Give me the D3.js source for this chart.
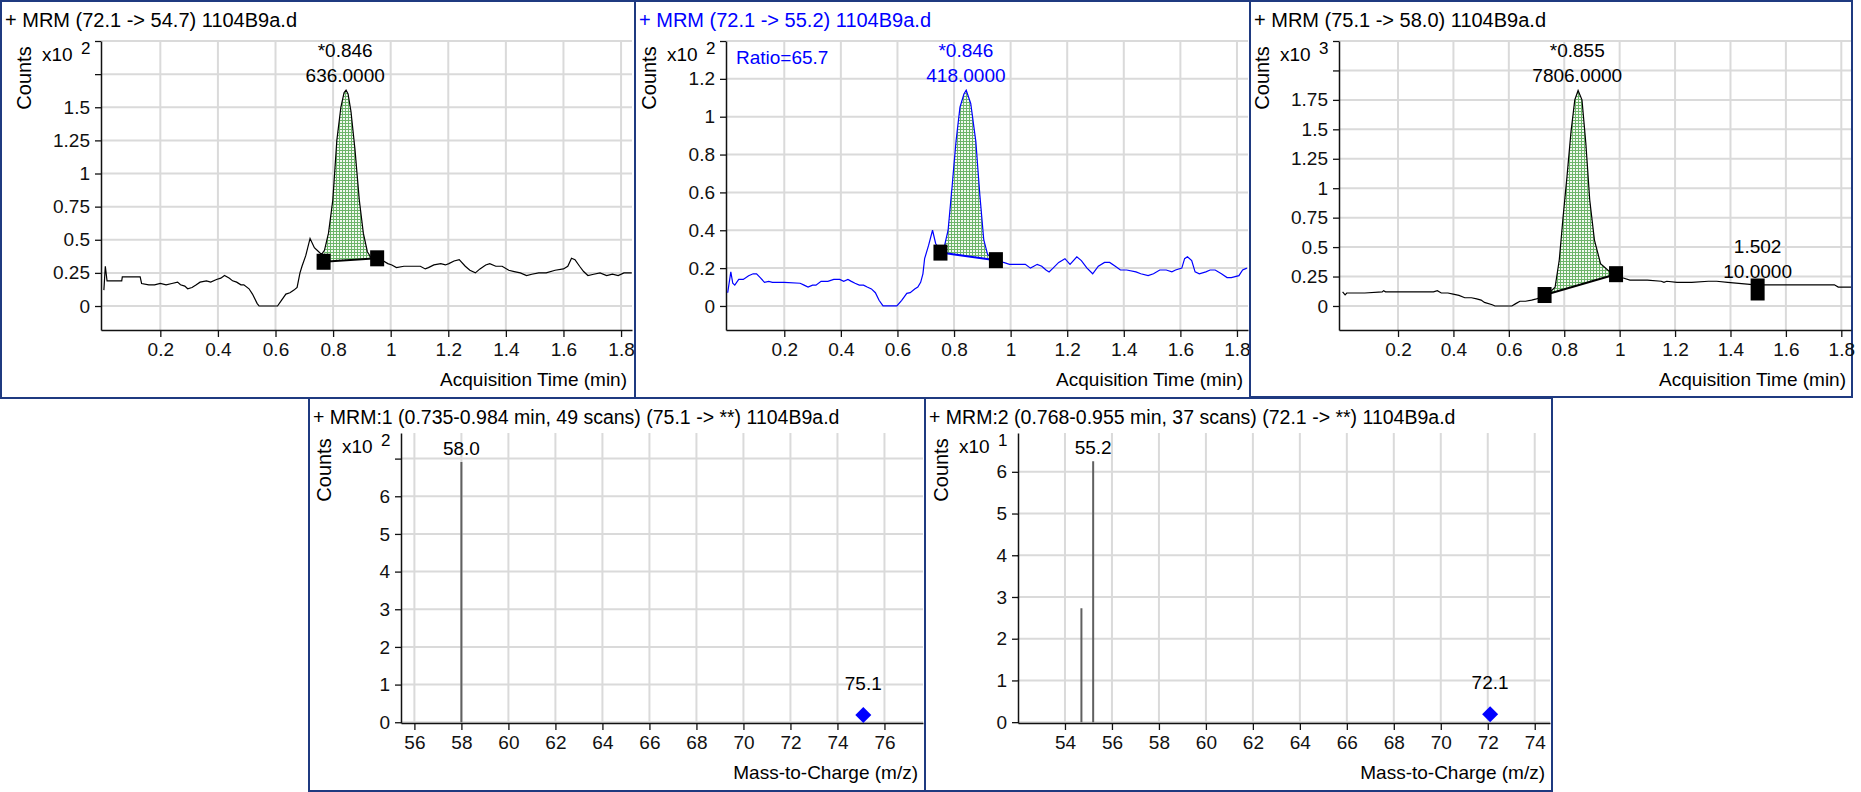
<!DOCTYPE html>
<html>
<head>
<meta charset="utf-8">
<script src="https://cdn.jsdelivr.net/npm/d3@7"></script>
<style>
    body { margin: 0; background: #fff; }
    svg { display: block; font-family: "Liberation Sans", Arial, sans-serif; }
</style>
</head>
<body>
<script>
// chromatograms (time in min, counts in units of the panel exponent)
const chromTitles = ["+ MRM (72.1 -> 54.7) 1104B9a.d", "+ MRM (72.1 -> 55.2) 1104B9a.d", "+ MRM (75.1 -> 58.0) 1104B9a.d"];
const chromExponent = ["2", "2", "3"];
const timeTicks = [0.2, 0.4, 0.6, 0.8, 1, 1.2, 1.4, 1.6, 1.8];
const countTicks = [
    [0, 0.25, 0.5, 0.75, 1, 1.25, 1.5, 1.75, 2],
    [0, 0.2, 0.4, 0.6, 0.8, 1, 1.2, 1.4],
    [0, 0.25, 0.5, 0.75, 1, 1.25, 1.5, 1.75, 2, 2.25]
];
const countLabelMax = [1.5, 1.2, 1.75];
const timeDomain = [[-0.006, 1.838], [-0.006, 1.839], [-0.013, 1.835]];
const countDomain = [[-0.181, 2.0], [-0.127, 1.4], [-0.204, 2.25]];

const trace547 = [[0.004,0.12],[0.009,0.30],[0.015,0.19],[0.04,0.19],[0.066,0.19],[0.068,0.22],[0.10,0.22],[0.13,0.22],[0.135,0.17],[0.16,0.16],[0.18,0.16],[0.20,0.17],[0.22,0.16],[0.24,0.17],[0.26,0.18],[0.27,0.16],[0.285,0.15],[0.295,0.13],[0.31,0.14],[0.325,0.16],[0.338,0.18],[0.36,0.19],[0.375,0.18],[0.395,0.20],[0.41,0.21],[0.423,0.23],[0.44,0.21],[0.451,0.19],[0.465,0.18],[0.48,0.16],[0.49,0.16],[0.508,0.13],[0.52,0.09],[0.536,0.02],[0.543,0.0],[0.607,0.0],[0.62,0.04],[0.636,0.09],[0.65,0.10],[0.664,0.12],[0.675,0.14],[0.685,0.25],[0.692,0.30],[0.705,0.38],[0.72,0.51],[0.735,0.44],[0.75,0.41],[0.76,0.39],[0.77,0.42],[0.784,0.55],[0.799,0.80],[0.813,1.25],[0.827,1.50],[0.838,1.61],[0.845,1.63],[0.852,1.60],[0.862,1.47],[0.876,1.18],[0.891,0.80],[0.905,0.55],[0.919,0.41],[0.933,0.36],[0.954,0.37],[0.965,0.38],[0.975,0.34],[0.99,0.32],[1.004,0.31],[1.02,0.29],[1.046,0.30],[1.075,0.30],[1.103,0.30],[1.12,0.28],[1.131,0.29],[1.15,0.31],[1.174,0.32],[1.19,0.31],[1.202,0.32],[1.22,0.34],[1.238,0.35],[1.259,0.30],[1.275,0.27],[1.294,0.25],[1.31,0.28],[1.33,0.31],[1.344,0.32],[1.365,0.30],[1.387,0.30],[1.41,0.27],[1.429,0.26],[1.45,0.25],[1.472,0.23],[1.49,0.24],[1.514,0.25],[1.54,0.25],[1.571,0.27],[1.6,0.28],[1.615,0.30],[1.628,0.36],[1.64,0.35],[1.656,0.30],[1.67,0.26],[1.685,0.23],[1.705,0.24],[1.727,0.25],[1.75,0.23],[1.77,0.24],[1.79,0.23],[1.81,0.25],[1.837,0.25]];
const trace552 = [[0.0,0.07],[0.011,0.18],[0.018,0.12],[0.025,0.11],[0.039,0.14],[0.055,0.14],[0.074,0.16],[0.09,0.17],[0.102,0.17],[0.115,0.15],[0.13,0.125],[0.145,0.13],[0.158,0.125],[0.2,0.125],[0.256,0.12],[0.27,0.11],[0.284,0.10],[0.30,0.11],[0.312,0.11],[0.33,0.13],[0.354,0.13],[0.375,0.14],[0.396,0.14],[0.41,0.13],[0.425,0.14],[0.437,0.13],[0.45,0.12],[0.465,0.11],[0.48,0.11],[0.493,0.10],[0.508,0.09],[0.522,0.07],[0.535,0.03],[0.549,0.0],[0.598,0.0],[0.615,0.03],[0.633,0.067],[0.645,0.07],[0.661,0.09],[0.672,0.10],[0.682,0.125],[0.69,0.17],[0.696,0.25],[0.71,0.32],[0.724,0.40],[0.735,0.33],[0.748,0.30],[0.765,0.31],[0.779,0.40],[0.793,0.63],[0.807,0.87],[0.821,1.05],[0.835,1.12],[0.843,1.14],[0.859,1.07],[0.877,0.87],[0.891,0.59],[0.905,0.35],[0.919,0.27],[0.935,0.26],[0.947,0.25],[0.96,0.24],[0.975,0.23],[0.996,0.22],[1.02,0.22],[1.052,0.22],[1.07,0.20],[1.082,0.21],[1.094,0.22],[1.11,0.21],[1.125,0.19],[1.136,0.18],[1.15,0.20],[1.17,0.23],[1.192,0.25],[1.21,0.22],[1.234,0.26],[1.25,0.24],[1.27,0.20],[1.29,0.17],[1.31,0.21],[1.332,0.23],[1.35,0.23],[1.37,0.21],[1.388,0.19],[1.41,0.19],[1.443,0.18],[1.46,0.17],[1.486,0.16],[1.505,0.17],[1.527,0.19],[1.55,0.19],[1.57,0.18],[1.583,0.19],[1.605,0.20],[1.615,0.25],[1.625,0.26],[1.64,0.24],[1.652,0.18],[1.667,0.17],[1.69,0.18],[1.705,0.19],[1.723,0.19],[1.745,0.17],[1.765,0.15],[1.78,0.15],[1.807,0.16],[1.82,0.19],[1.835,0.20]];
const trace580 = [[0.0,0.12],[0.009,0.095],[0.015,0.11],[0.08,0.11],[0.143,0.12],[0.148,0.13],[0.155,0.12],[0.25,0.12],[0.328,0.12],[0.342,0.13],[0.356,0.11],[0.38,0.11],[0.399,0.10],[0.42,0.09],[0.441,0.07],[0.465,0.07],[0.484,0.06],[0.5,0.05],[0.512,0.03],[0.54,0.01],[0.55,0.0],[0.611,0.0],[0.625,0.02],[0.64,0.04],[0.66,0.04],[0.682,0.05],[0.70,0.06],[0.725,0.08],[0.745,0.11],[0.767,0.16],[0.782,0.39],[0.796,0.76],[0.81,1.10],[0.824,1.47],[0.838,1.75],[0.85,1.83],[0.864,1.75],[0.878,1.38],[0.892,0.90],[0.909,0.56],[0.931,0.36],[0.96,0.30],[0.987,0.26],[1.01,0.24],[1.037,0.22],[1.1,0.22],[1.15,0.21],[1.16,0.20],[1.17,0.21],[1.207,0.20],[1.26,0.20],[1.32,0.21],[1.35,0.21],[1.39,0.20],[1.44,0.19],[1.49,0.18],[1.6,0.18],[1.775,0.18],[1.789,0.16],[1.843,0.16]];
const chromTraces = [trace547, trace552, trace580];

// integrated peaks
const peakStart = [0.767, 0.752, 0.729];
const peakEnd = [0.953, 0.948, 0.987];
const baseAtStart = [0.334, 0.282, 0.093];
const baseAtEnd = [0.36, 0.242, 0.27];
const apexTime = [0.842, 0.842, 0.847];
const apexRT = ["*0.846", "*0.846", "*0.855"];
const apexArea = ["636.0000", "418.0000", "7806.0000"];
const extraPeakTime = 1.498;
const extraPeakBase = 0.14;
const extraPeakText = ["1.502", "10.0000"];
const ratioText = "Ratio=65.7";

// product ion spectra (m/z, counts in units of the panel exponent)
const specTitles = ["+ MRM:1 (0.735-0.984 min, 49 scans) (75.1 -> **) 1104B9a.d", "+ MRM:2 (0.768-0.955 min, 37 scans) (72.1 -> **) 1104B9a.d"];
const specExponent = ["2", "1"];
const spec1Mz = [58.0];
const spec1Counts = [6.91];
const spec2Mz = [54.7, 55.2];
const spec2Counts = [2.73, 6.25];
const precursorMz = [75.1, 72.1];
const precursorCounts = [0.19, 0.19];
const specMzTicks = [[56, 58, 60, 62, 64, 66, 68, 70, 72, 74, 76], [54, 56, 58, 60, 62, 64, 66, 68, 70, 72, 74]];
const specCountTicks = [[0, 1, 2, 3, 4, 5, 6, 7], [0, 1, 2, 3, 4, 5, 6]];
const specCountLabelMax = [6, 6];
const specMzDomain = [[55.43, 77.64], [52.0, 74.65]];
const specCountDomain = [[-0.02, 7.68], [-0.02, 6.93]];

const BORDER = "#1f3a80";
const GRID = "#dadada";
const BLUE = "#0000ff";

const svg = d3.select("body").append("svg")
    .attr("width", 1861)
    .attr("height", 792);

const defs = svg.append("defs");
const hatch = defs.append("pattern")
    .attr("id", "hatch")
    .attr("width", 3)
    .attr("height", 3)
    .attr("patternUnits", "userSpaceOnUse");
hatch.append("rect").attr("width", 3).attr("height", 3).attr("fill", "#f2f9f1");
hatch.append("path").attr("d", "M0,0.5H3M0.5,0V3").attr("stroke", "#6cb46a").attr("stroke-width", 1);

function build_frame(box, title, color, fontSize) {
    svg.append("rect")
        .attr("x", box[0]).attr("y", box[1])
        .attr("width", box[2] - box[0]).attr("height", box[3] - box[1])
        .attr("fill", "none").attr("stroke", BORDER).attr("stroke-width", 2);
    svg.append("text")
        .attr("x", box[0] + 4).attr("y", box[1] + 26)
        .attr("font-size", fontSize).attr("fill", color)
        .text(title);
}

function build_axes(area, x, y, xTicks, yTicks, labelMax, exponent, xTitle) {
    const g = svg.append("g");

    // grid
    g.append("g").selectAll("line").data(xTicks).join("line")
        .attr("x1", d => x(d)).attr("x2", d => x(d))
        .attr("y1", area.top).attr("y2", area.bottom)
        .attr("stroke", GRID).attr("stroke-width", 2);
    g.append("g").selectAll("line").data(yTicks).join("line")
        .attr("x1", area.left).attr("x2", area.right)
        .attr("y1", d => y(d)).attr("y2", d => y(d))
        .attr("stroke", GRID).attr("stroke-width", 2);

    const xa = g.append("g")
        .attr("transform", `translate(0,${area.bottom})`)
        .call(d3.axisBottom(x).tickValues(xTicks).tickSize(7).tickSizeOuter(0).tickPadding(6).tickFormat(d => String(d)));
    const ya = g.append("g")
        .attr("transform", `translate(${area.left},0)`)
        .call(d3.axisLeft(y).tickValues(yTicks).tickSize(6).tickSizeOuter(0).tickPadding(5)
            .tickFormat(d => (d <= labelMax ? String(d) : "")));
    [xa, ya].forEach(a => {
        a.attr("font-size", 19).attr("font-family", null).attr("color", "#111");
        a.select(".domain").attr("stroke-width", 1.5);
        a.selectAll(".tick line").attr("stroke-width", 1.3);
    });

    // axis titles
    g.append("text")
        .attr("transform", `translate(${area.left - 77},${area.top + 37}) rotate(-90)`)
        .attr("text-anchor", "middle").attr("dy", "0.35em")
        .attr("font-size", 20).text("Counts");
    g.append("text")
        .attr("x", area.left - 59).attr("y", area.top + 20)
        .attr("font-size", 19).text("x10");
    g.append("text")
        .attr("x", area.left - 20).attr("y", area.top + 13)
        .attr("font-size", 17).text(exponent);
    g.append("text")
        .attr("x", area.right - 5).attr("y", area.bottom + 56)
        .attr("text-anchor", "end")
        .attr("font-size", 19).text(xTitle);
    return g;
}

// chromatogram panels
const chromLayout = [
    { box: [1, 1, 635, 398], left: 101, right: 632 },
    { box: [635, 1, 1250, 398], left: 726, right: 1248 },
    { box: [1250, 1, 1852, 397], left: 1339, right: 1851 }
];
const chromColor = ["#000", BLUE, "#000"];

chromLayout.forEach((lay, i) => {
    const area = { left: lay.left, right: lay.right, top: 41, bottom: 330 };
    build_frame(lay.box, chromTitles[i], chromColor[i], 20);

    const x = d3.scaleLinear().domain(timeDomain[i]).range([area.left, area.right]);
    const y = d3.scaleLinear().domain(countDomain[i]).range([area.bottom, area.top]);
    build_axes(area, x, y, timeTicks, countTicks[i], countLabelMax[i], chromExponent[i], "Acquisition Time (min)");

    const clipId = "clip" + i;
    defs.append("clipPath").attr("id", clipId).append("rect")
        .attr("x", area.left).attr("y", area.top)
        .attr("width", area.right - area.left).attr("height", area.bottom - area.top);
    const plot = svg.append("g").attr("clip-path", `url(#${clipId})`);

    const trace = chromTraces[i];
    const inside = trace.filter(d => d[0] > peakStart[i] && d[0] < peakEnd[i]);
    const fillPts = [[peakStart[i], baseAtStart[i]], ...inside, [peakEnd[i], baseAtEnd[i]]];
    plot.append("path")
        .attr("d", d3.line().x(d => x(d[0])).y(d => y(d[1]))(fillPts) + "Z")
        .attr("fill", "url(#hatch)").attr("stroke", "none");

    plot.append("path")
        .attr("d", d3.line().x(d => x(d[0])).y(d => y(d[1]))(trace))
        .attr("fill", "none").attr("stroke", chromColor[i]).attr("stroke-width", 1.2);

    // integration baseline and markers
    plot.append("line")
        .attr("x1", x(peakStart[i])).attr("y1", y(baseAtStart[i]))
        .attr("x2", x(peakEnd[i])).attr("y2", y(baseAtEnd[i]))
        .attr("stroke", chromColor[i]).attr("stroke-width", 2);
    plot.selectAll("rect.mark").data([[peakStart[i], baseAtStart[i]], [peakEnd[i], baseAtEnd[i]]]).join("rect")
        .attr("class", "mark")
        .attr("x", d => x(d[0]) - 7).attr("y", d => y(d[1]) - 8)
        .attr("width", 14).attr("height", 16).attr("fill", "#000");

    svg.append("text")
        .attr("x", x(apexTime[i])).attr("y", area.top + 16)
        .attr("text-anchor", "middle").attr("font-size", 19).attr("fill", chromColor[i])
        .text(apexRT[i]);
    svg.append("text")
        .attr("x", x(apexTime[i])).attr("y", area.top + 41)
        .attr("text-anchor", "middle").attr("font-size", 19).attr("fill", chromColor[i])
        .text(apexArea[i]);

    if (i === 1) {
        svg.append("text")
            .attr("x", area.left + 10).attr("y", area.top + 23)
            .attr("font-size", 19).attr("fill", BLUE)
            .text(ratioText);
    }
    if (i === 2) {
        plot.append("rect")
            .attr("x", x(extraPeakTime) - 7).attr("y", y(extraPeakBase) - 11)
            .attr("width", 14).attr("height", 22).attr("fill", "#000");
        extraPeakText.forEach((t, k) => {
            svg.append("text")
                .attr("x", x(extraPeakTime)).attr("y", y(extraPeakBase) - 36 + k * 25)
                .attr("text-anchor", "middle").attr("font-size", 19)
                .text(t);
        });
    }
});

// spectrum panels
const specLayout = [
    { box: [309, 398, 925, 791], left: 401, right: 923 },
    { box: [925, 398, 1552, 791], left: 1018, right: 1550 }
];
const specSticks = [
    spec1Mz.map((m, k) => [m, spec1Counts[k]]),
    spec2Mz.map((m, k) => [m, spec2Counts[k]])
];

specLayout.forEach((lay, i) => {
    const area = { left: lay.left, right: lay.right, top: 433, bottom: 723 };
    build_frame(lay.box, specTitles[i], "#000", 19.5);

    const x = d3.scaleLinear().domain(specMzDomain[i]).range([area.left, area.right]);
    const y = d3.scaleLinear().domain(specCountDomain[i]).range([area.bottom, area.top]);
    build_axes(area, x, y, specMzTicks[i], specCountTicks[i], specCountLabelMax[i], specExponent[i], "Mass-to-Charge (m/z)");

    svg.append("g").selectAll("line").data(specSticks[i]).join("line")
        .attr("x1", d => x(d[0])).attr("x2", d => x(d[0]))
        .attr("y1", y(0)).attr("y2", d => y(d[1]))
        .attr("stroke", "#606060").attr("stroke-width", 2);

    const top = specSticks[i].reduce((a, b) => (b[1] > a[1] ? b : a));
    svg.append("text")
        .attr("x", x(top[0])).attr("y", y(top[1]) - 7)
        .attr("text-anchor", "middle").attr("font-size", 19)
        .text(top[0].toFixed(1));

    const px = x(precursorMz[i]);
    const py = y(precursorCounts[i]);
    svg.append("path")
        .attr("d", `M${px},${py - 8}L${px + 8},${py}L${px},${py + 8}L${px - 8},${py}Z`)
        .attr("fill", BLUE);
    svg.append("text")
        .attr("x", px).attr("y", py - 25)
        .attr("text-anchor", "middle").attr("font-size", 19)
        .text(precursorMz[i].toFixed(1));
});
</script>
</body>
</html>
